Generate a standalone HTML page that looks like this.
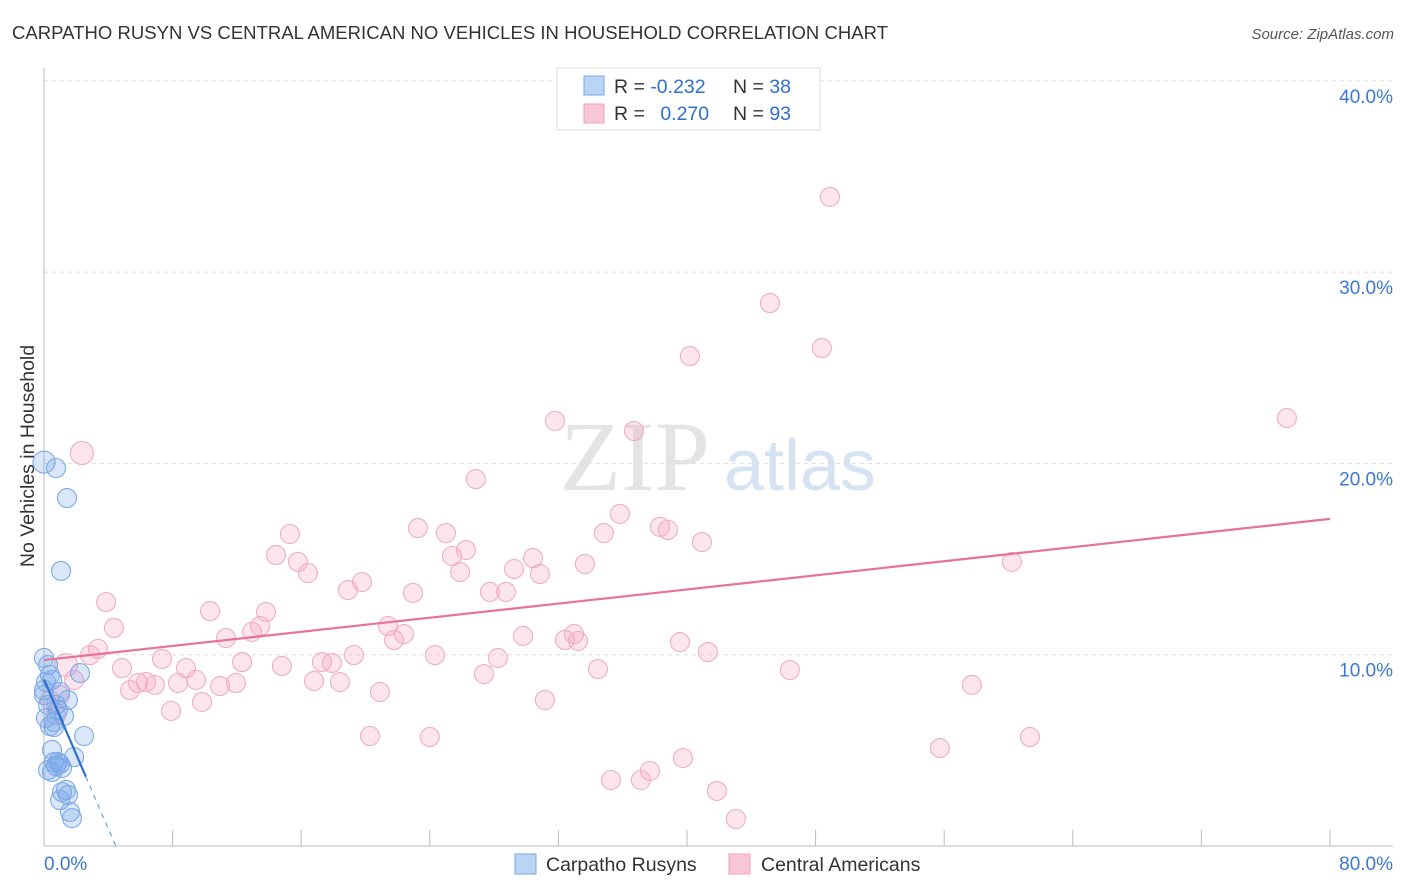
<!DOCTYPE html>
<html><head><meta charset="utf-8"><style>
body{margin:0;background:#fff;font-family:"Liberation Sans",sans-serif;}
svg{display:block}
</style></head><body>
<svg id="c" width="1406" height="892" xmlns="http://www.w3.org/2000/svg">
<text x="12" y="39" font-size="18.5" fill="#333" textLength="876">CARPATHO RUSYN VS CENTRAL AMERICAN NO VEHICLES IN HOUSEHOLD CORRELATION CHART</text>
<text x="1394" y="39" font-size="15" fill="#555" font-style="italic" text-anchor="end">Source: ZipAtlas.com</text>
<text transform="translate(34,456) rotate(-90)" font-size="19.5" fill="#333" text-anchor="middle">No Vehicles in Household</text>
<g>
<text x="635" y="490" font-size="100" font-family="Liberation Serif,serif" fill="#e4e4e4" text-anchor="middle">ZIP</text>
<text x="800" y="490" font-size="72" fill="#d5e3f3" text-anchor="middle">atlas</text>
</g>
<g id="grid"></g>
<g id="axes"></g>
<g id="pts"></g>
<g id="trend"></g>
<g>
<rect x="557" y="68" width="263" height="62" fill="#fff" stroke="#ddd"/>
<rect x="584" y="76" width="20" height="19" fill="#b9d4f5" stroke="#7aa8e0"/>
<rect x="584" y="104" width="20" height="19" fill="#f9c6d5" stroke="#eea0b8"/>
<text x="614" y="93" font-size="19.5" fill="#333">R = <tspan fill="#2f6fd0">-0.232</tspan></text>
<text x="733" y="93" font-size="19.5" fill="#333">N = <tspan fill="#2f6fd0">38</tspan></text>
<text x="614" y="120" font-size="19.5" fill="#333">R = <tspan fill="#2f6fd0" dx="10">0.270</tspan></text>
<text x="733" y="120" font-size="19.5" fill="#333">N = <tspan fill="#2f6fd0">93</tspan></text>
</g>
<g>
<rect x="515" y="854" width="21" height="20" fill="#b9d4f5" stroke="#7aa8e0"/>
<text x="546" y="871" font-size="19.5" fill="#333">Carpatho Rusyns</text>
<rect x="729" y="854" width="21" height="20" fill="#f9c6d5" stroke="#eea0b8"/>
<text x="761" y="871" font-size="19.5" fill="#333">Central Americans</text>
</g>
</svg>
<script>
const yTicks=[10,20,30,40];
const yTickLabels=["10.0%","20.0%","30.0%","40.0%"];
const xTickLabels=["0.0%","80.0%"];
const pinkX=[2.36,3.86,4.35,3.36,2.86,1.37,1.87,1.0,0.37,0.75,4.85,5.35,5.85,6.34,6.9,7.34,7.9,8.34,8.83,9.46,9.83,10.33,10.95,11.32,11.94,12.32,12.94,13.44,13.81,14.43,14.8,15.3,15.8,16.42,16.8,17.29,17.91,18.41,18.91,19.28,19.78,20.28,20.9,21.4,21.77,22.39,22.95,23.26,24.0,24.32,25.0,25.38,25.88,26.25,26.87,27.37,27.74,28.24,28.74,29.24,29.8,30.42,30.85,31.16,31.79,32.41,32.97,33.22,33.65,34.46,34.83,35.27,35.83,36.7,37.13,37.69,38.32,38.81,39.56,39.75,40.18,40.93,41.3,41.86,43.04,45.16,46.4,48.39,48.89,55.73,57.72,60.21,61.33,77.32];
const pinkY=[20.54,12.75,11.4,10.3,9.98,9.46,8.68,7.89,7.63,6.85,9.3,8.15,8.52,8.57,8.42,9.78,7.06,8.52,9.3,8.68,7.53,12.28,8.36,10.87,8.52,9.62,11.19,11.5,12.23,15.21,9.41,16.31,14.85,14.27,8.63,9.62,9.57,8.57,13.38,9.98,13.8,5.75,8.05,11.5,10.77,11.08,13.23,16.62,5.7,9.98,16.36,15.16,14.32,15.47,19.18,8.99,13.28,9.83,13.28,14.48,10.98,15.05,14.22,7.63,22.22,10.77,11.08,10.72,14.74,9.25,16.36,3.45,17.36,21.69,3.45,3.92,16.68,16.52,10.66,4.6,25.61,15.89,10.14,2.88,1.41,28.38,9.2,26.03,33.93,5.12,8.42,14.85,5.7,22.37];
const blueX=[0,0.75,1.43,1.06,0,0.25,0.37,0.5,2.24,0,1.0,1.49,0.12,0.62,1.24,0.87,0.37,2.49,1.87,0.5,0.62,0.75,1.0,1.12,0.25,0.5,0.87,1.37,1.12,1.49,1.0,1.62,1.74,0.62,0.25,0,0.12,0.75];
const blueY=[20.07,19.76,18.19,14.38,9.83,9.46,8.94,8.68,9.04,8.15,8.05,7.63,6.69,6.48,6.8,7.11,6.27,5.75,4.65,5.02,4.39,4.18,4.29,4.08,3.97,3.87,4.39,2.93,2.82,2.67,2.4,1.78,1.46,6.22,7.37,7.89,8.57,7.37];
const pinkTrend=[9.72,17.1];
const blueTrend=[8.7,-1.95];
const NS="http://www.w3.org/2000/svg";
const X0=44,X1=1330,Y0=846,PY=19.13;
const xs=v=>X0+v/80*(X1-X0), ys=v=>Y0-v*PY;
function mk(tag,at,parent){const e=document.createElementNS(NS,tag);for(const k in at)e.setAttribute(k,at[k]);parent.appendChild(e);return e;}
const grid=document.getElementById('grid'),axes=document.getElementById('axes'),pts=document.getElementById('pts'),trend=document.getElementById('trend');
yTicks.forEach((t,i)=>{
 const l=mk('line',{x1:X0,x2:1393,y1:ys(t),y2:ys(t),stroke:'#ddd','stroke-dasharray':'4,4'},grid);
 
 
 const tx=mk('text',{x:1393,y:ys(t)+22,'font-size':19,fill:'#3a78d4','text-anchor':'end'},axes);
 tx.textContent=yTickLabels[i];
 
 
});
mk('line',{x1:X0,x2:X0,y1:68,y2:Y0,stroke:'#bbb'},axes);
mk('line',{x1:X0,x2:1393,y1:Y0,y2:Y0,stroke:'#bbb'},axes);
for(let i=0;i<=10;i++){const x=xs(i*8);mk('line',{x1:x,x2:x,y1:830,y2:Y0,stroke:'#bbb'},axes);}
const xl0=mk('text',{x:44,y:870,'font-size':19,fill:'#3a78d4'},axes);xl0.textContent=xTickLabels[0];


const xl1=mk('text',{x:1393,y:870,'font-size':19,fill:'#3a78d4','text-anchor':'end'},axes);xl1.textContent=xTickLabels[1];


pinkX.forEach((v,i)=>{
 const c=mk('circle',{cx:xs(v),cy:ys(pinkY[i]),r:(i==0||i==5)?11.5:9.5,fill:'rgba(244,160,188,0.27)',stroke:'#f0aec3','stroke-width':1.1},pts);
 
 
});
blueX.forEach((v,i)=>{
 const c=mk('circle',{cx:xs(v),cy:ys(blueY[i]),r:i==0?11:9.5,fill:'rgba(120,168,232,0.27)',stroke:'#7eaae6','stroke-width':1.1},pts);
 
 
});
const pl=mk('line',{x1:xs(0),y1:ys(pinkTrend[0]),x2:xs(80),y2:ys(pinkTrend[1]),stroke:'#e8719a','stroke-width':2.2},trend);


const bEnd=2.6,bZero=-blueTrend[0]/blueTrend[1];
const bl=mk('line',{x1:xs(0),y1:ys(blueTrend[0]),x2:xs(bEnd),y2:ys(blueTrend[0]+blueTrend[1]*bEnd),stroke:'#2f6fd0','stroke-width':2.2},trend);


const bd=mk('line',{x1:xs(bEnd),y1:ys(blueTrend[0]+blueTrend[1]*bEnd),x2:xs(bZero),y2:ys(0),stroke:'#5a8fd8','stroke-width':1,'stroke-dasharray':'5,5'},trend);


</script>
</body></html>
